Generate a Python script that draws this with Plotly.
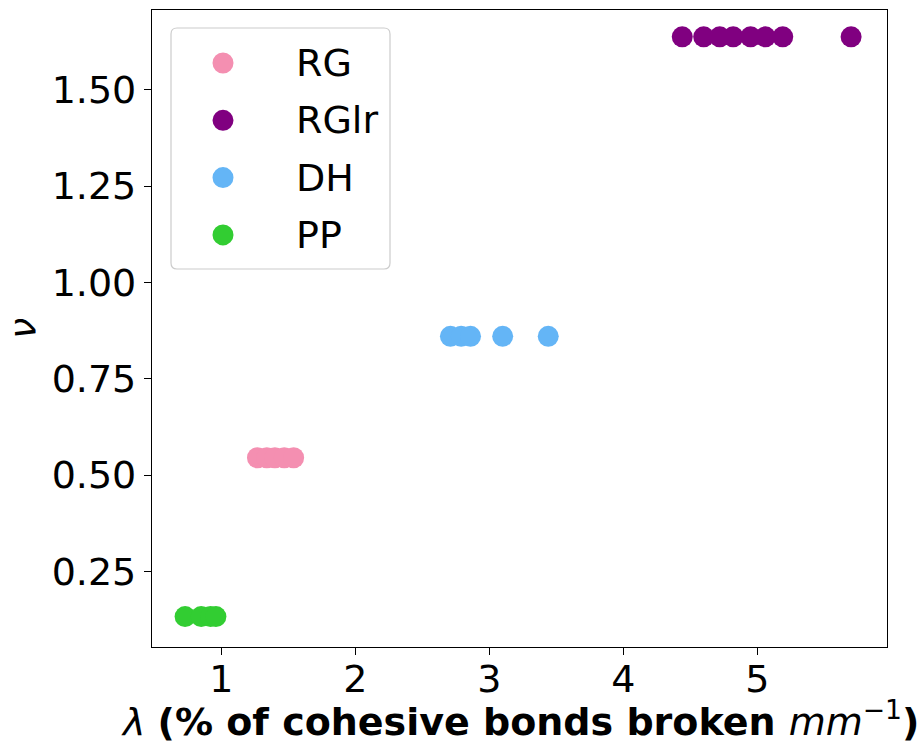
import plotly.graph_objects as go

# data (lambda values, nu per group)
series_names = ["RG", "RGlr", "DH", "PP"]
rg_x = [1.27, 1.34, 1.40, 1.47, 1.54]
rg_y = [0.545] * len(rg_x)
rglr_x = [4.44, 4.60, 4.72, 4.82, 4.95, 5.06, 5.19, 5.70]
rglr_y = [1.637] * len(rglr_x)
dh_x = [2.71, 2.79, 2.86, 3.10, 3.44]
dh_y = [0.860] * len(dh_x)
pp_x = [0.73, 0.85, 0.92, 0.96]
pp_y = [0.133] * len(pp_x)
colors = ["#F48FB1", "#800080", "#64B5F6", "#32CD32"]
x_ticks = [1, 2, 3, 4, 5]
y_ticks = [0.25, 0.50, 0.75, 1.00, 1.25, 1.50]

xs = [rg_x, rglr_x, dh_x, pp_x]
ys = [rg_y, rglr_y, dh_y, pp_y]

W, H = 922, 746
ML, MR, MT, MB = 152, 35, 10, 99
PW, PH = W - ML - MR, H - MT - MB


def px(x):
    return (x - ML) / PW


def py(y):
    return (H - MB - y) / PH


fig = go.Figure()
for name, x, y, c in zip(series_names, xs, ys, colors):
    fig.add_trace(go.Scatter(
        x=x, y=y, mode="markers", name=name, showlegend=False,
        marker=dict(color=c, size=21, line=dict(width=0)),
    ))

font = "DejaVu Sans, sans-serif"
FS = 38

# legend frame (matplotlib-style, rounded)
lx0, lx1, ly0, ly1, r = 171, 390, 28, 269, 6
path = (f"M {px(lx0 + r)} {py(ly0)} L {px(lx1 - r)} {py(ly0)} "
        f"Q {px(lx1)} {py(ly0)} {px(lx1)} {py(ly0 + r)} "
        f"L {px(lx1)} {py(ly1 - r)} Q {px(lx1)} {py(ly1)} {px(lx1 - r)} {py(ly1)} "
        f"L {px(lx0 + r)} {py(ly1)} Q {px(lx0)} {py(ly1)} {px(lx0)} {py(ly1 - r)} "
        f"L {px(lx0)} {py(ly0 + r)} Q {px(lx0)} {py(ly0)} {px(lx0 + r)} {py(ly0)} Z")
shapes = [dict(type="path", path=path, xref="paper", yref="paper",
               line=dict(color="#cccccc", width=1.2), fillcolor="rgba(255,255,255,0.8)",
               layer="above")]
annotations = []
row0, rowgap = 63, 57.3
for i, (name, c) in enumerate(zip(series_names, colors)):
    cy = row0 + i * rowgap
    cx, rr = 223, 10.5
    shapes.append(dict(type="circle", xref="paper", yref="paper",
                       x0=px(cx - rr), x1=px(cx + rr), y0=py(cy + rr), y1=py(cy - rr),
                       fillcolor=c, line=dict(width=0), layer="above"))
    annotations.append(dict(text=name, xref="paper", yref="paper", x=px(294), y=py(cy),
                            xanchor="left", yanchor="middle", showarrow=False,
                            font=dict(family=font, size=FS, color="black")))

# x-axis title as an annotation at the reference position
annotations.append(dict(
    text="<i>λ</i> <b>(% of cohesive bonds broken </b><i>mm</i><sup>−1</sup><b>)</b>",
    xref="paper", yref="paper", x=0.5, y=py(719), xanchor="center", yanchor="middle",
    showarrow=False, font=dict(family=font, size=FS, color="black")))

fig.update_layout(
    width=W, height=H,
    margin=dict(l=ML, r=MR, t=MT, b=MB),
    paper_bgcolor="white", plot_bgcolor="white",
    font=dict(family=font, size=FS, color="black"),
    showlegend=False,
    shapes=shapes, annotations=annotations,
    xaxis=dict(
        range=[0.483, 5.968], tickvals=x_ticks, ticktext=[str(v) for v in x_ticks],
        showgrid=False, zeroline=False, showline=True, mirror=True, automargin=False,
        linecolor="black", linewidth=1.3, ticks="outside", ticklen=7,
        tickwidth=1.3, tickcolor="black", tickfont=dict(size=FS),
        ticklabelstandoff=-9,
    ),
    yaxis=dict(
        range=[0.054, 1.7066], tickvals=y_ticks, ticktext=[f"{v:.2f}" for v in y_ticks],
        showgrid=False, zeroline=False, showline=True, mirror=True, automargin=False,
        linecolor="black", linewidth=1.3, ticks="outside", ticklen=7,
        tickwidth=1.3, tickcolor="black", tickfont=dict(size=FS),
        title=dict(text="<i>ν</i>", font=dict(family=font, size=FS), standoff=16),
    ),
)

fig.write_html("out.html")
